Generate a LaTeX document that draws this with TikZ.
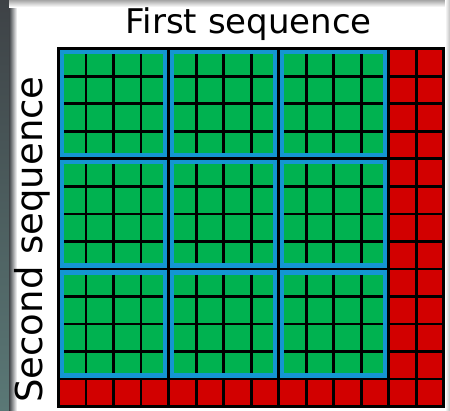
\documentclass[tikz,border=0pt]{standalone}
\usepackage{fontspec}
\setmainfont{DejaVu Sans}
\definecolor{cellgreen}{RGB}{0,178,80}
\definecolor{cellred}{RGB}{210,0,0}
\definecolor{frameblue}{RGB}{20,150,210}
\definecolor{edgedark}{RGB}{62,66,70}
\definecolor{edgeteal}{RGB}{90,120,118}
\begin{document}
\begin{tikzpicture}[x=1pt,y=-1pt,
  gridline/.style={black,line width=2.8pt},
  labeltext/.style={inner sep=0pt,text=black}]
\useasboundingbox (0,0) rectangle (450,410);
% background
\fill[white] (0,0) rectangle (450,410);
\shade[top color=edgedark,bottom color=edgeteal] (0,0) rectangle (9,410);
\shade[left color=edgedark,right color=white] (9,0) rectangle (17,410);
\shade[top color=gray!70,bottom color=white] (9,0) rectangle (450,7);
\shade[left color=white,right color=gray!50] (445,0) rectangle (450,410);
% grid parameters
\def\gx{58.5}\def\gy{48.8}\def\cs{27.52}
% red base with full grid
\fill[cellred] (\gx,\gy) rectangle ({\gx+14*\cs},{\gy+13*\cs});
\foreach \i in {0,...,14}
  \draw[gridline] ({\gx+\i*\cs},\gy) -- ({\gx+\i*\cs},{\gy+13*\cs});
\foreach \j in {0,...,13}
  \draw[gridline] (\gx,{\gy+\j*\cs}) -- ({\gx+14*\cs},{\gy+\j*\cs});
% green blocks
\foreach \bi in {0,1,2}{
  \foreach \bj in {0,1,2}{
    \pgfmathsetmacro\bx{\gx+4*\bi*\cs}
    \pgfmathsetmacro\by{\gy+4*\bj*\cs}
    \fill[frameblue] ({\bx+1.4},{\by+1.4}) rectangle ({\bx+4*\cs-1.4},{\by+4*\cs-1.4});
    \fill[cellgreen] ({\bx+5.6},{\by+5.6}) rectangle ({\bx+4*\cs-5.6},{\by+4*\cs-5.6});
    \foreach \k in {1,2,3}{
      \draw[gridline] ({\bx+\k*\cs},{\by+5.6}) -- ({\bx+\k*\cs},{\by+4*\cs-5.6});
      \draw[gridline] ({\bx+5.6},{\by+\k*\cs}) -- ({\bx+4*\cs-5.6},{\by+\k*\cs});
    }
  }
}
\draw[gridline] (\gx,\gy) rectangle ({\gx+14*\cs},{\gy+13*\cs});
% labels
\node[labeltext,anchor=base,font=\fontsize{34}{40}\selectfont] (first) at (248.8,33.3) {First sequence};
\node[labeltext,anchor=base,rotate=90,font=\fontsize{37}{44}\selectfont] (second) at (42.5,239.5) {Second sequence};
\end{tikzpicture}
\end{document}
